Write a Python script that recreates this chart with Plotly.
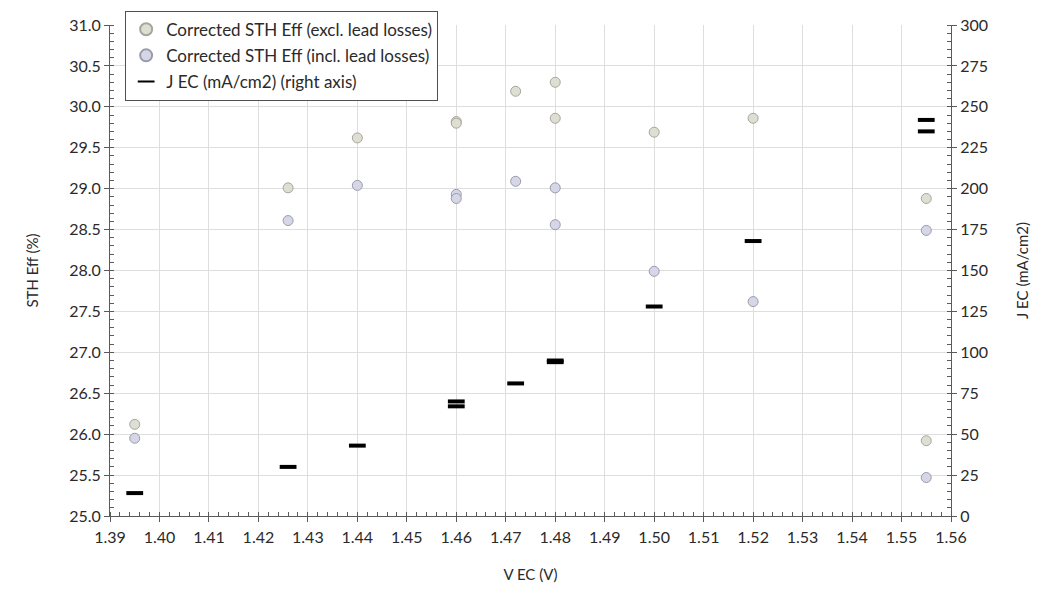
import plotly.graph_objects as go

# Electrolyser operating voltage (V) for each measurement
v_excl = [1.395, 1.426, 1.44, 1.46, 1.46, 1.472, 1.48, 1.48, 1.50, 1.52, 1.555, 1.555]
sth_excl = [26.12, 29.01, 29.62, 29.82, 29.80, 30.19, 30.30, 29.86, 29.69, 29.86, 28.88, 25.92]

v_incl = [1.395, 1.426, 1.44, 1.46, 1.46, 1.472, 1.48, 1.48, 1.50, 1.52, 1.555, 1.555]
sth_incl = [25.95, 28.61, 29.04, 28.93, 28.88, 29.09, 29.01, 28.56, 27.99, 27.62, 28.49, 25.47]

v_j = [1.395, 1.426, 1.44, 1.46, 1.46, 1.472, 1.48, 1.48, 1.50, 1.52, 1.555, 1.555]
j_ec = [14, 30, 43, 70, 67, 81, 95, 94, 128, 168, 242, 235]

x_ticks = [round(1.39 + 0.01 * i, 2) for i in range(18)]
y_ticks = [round(25.0 + 0.5 * i, 1) for i in range(13)]
y2_ticks = [25 * i for i in range(13)]

FONT = "Lato, 'Open Sans', sans-serif"
TXT = "#2a2a2a"
AXIS = "#5a5a5a"
GRID = "#dedede"

fig = go.Figure()

fig.add_trace(go.Scatter(
    x=v_excl, y=sth_excl, mode="markers",
    name="Corrected STH Eff (excl. lead losses)", legendgroup="a",
    marker=dict(symbol="circle", size=10, color="#dedfd2",
                line=dict(color="#a6a69e", width=1)),
))
fig.add_trace(go.Scatter(
    x=v_incl, y=sth_incl, mode="markers",
    name="Corrected STH Eff (incl. lead losses)", legendgroup="b",
    marker=dict(symbol="circle", size=10, color="#d6d7e6",
                line=dict(color="#9a9aae", width=1)),
))
fig.add_trace(go.Scatter(
    x=v_j, y=j_ec, mode="markers", yaxis="y2",
    name="J EC (mA/cm2) (right axis)", legendgroup="c",
    marker=dict(symbol="line-ew", size=12, color="black",
                line=dict(color="black", width=4)),
))

fig.update_layout(
    width=1039, height=593,
    margin=dict(l=110, r=88, t=24, b=77),
    paper_bgcolor="white", plot_bgcolor="white",
    font=dict(family=FONT, size=15, color=TXT),
    showlegend=True,
    legend=dict(
        x=0.018, y=1.027, xanchor="left", yanchor="top",
        bgcolor="white", bordercolor="#505050", borderwidth=1,
        font=dict(family=FONT, size=17, color=TXT),
        itemsizing="constant", itemwidth=30, tracegroupgap=1,
    ),
    xaxis=dict(
        range=[1.39, 1.56], tickvals=x_ticks,
        ticktext=[f"{t:.2f}" for t in x_ticks],
        showgrid=True, gridcolor=GRID, gridwidth=1,
        showline=True, linecolor=AXIS, linewidth=1,
        ticks="outside", ticklen=5, tickcolor=AXIS,
        ticklabelstandoff=2, automargin=False,
        minor=dict(dtick=0.002, tick0=1.39, ticks="inside", ticklen=4,
                   tickcolor=AXIS, showgrid=False),
        zeroline=False,
        title=dict(text="V EC (V)", standoff=24,
                   font=dict(family=FONT, size=15, color=TXT)),
        tickfont=dict(family=FONT, size=16, color=TXT),
    ),
    yaxis=dict(
        range=[25.0, 31.0], tickvals=y_ticks,
        ticktext=[f"{t:.1f}" for t in y_ticks],
        showgrid=True, gridcolor=GRID, gridwidth=1,
        showline=True, linecolor=AXIS, linewidth=1,
        ticks="outside", ticklen=5, tickcolor=AXIS,
        automargin=False,
        minor=dict(dtick=0.1, tick0=25.0, ticks="inside", ticklen=4,
                   tickcolor=AXIS, showgrid=False),
        zeroline=False,
        title=dict(text="STH Eff (%)", standoff=26,
                   font=dict(family=FONT, size=15, color=TXT)),
        tickfont=dict(family=FONT, size=16, color=TXT),
    ),
    yaxis2=dict(
        overlaying="y", side="right", anchor="x",
        range=[0, 300], tickvals=y2_ticks,
        showgrid=False,
        showline=True, linecolor=AXIS, linewidth=1,
        ticks="outside", ticklen=5, tickcolor=AXIS,
        automargin=False,
        minor=dict(dtick=5, tick0=0, ticks="inside", ticklen=4,
                   tickcolor=AXIS, showgrid=False),
        zeroline=False,
        title=dict(text="J EC (mA/cm2)", standoff=30,
                   font=dict(family=FONT, size=15, color=TXT)),
        tickfont=dict(family=FONT, size=16, color=TXT),
    ),
)

fig.write_html("out.html")
